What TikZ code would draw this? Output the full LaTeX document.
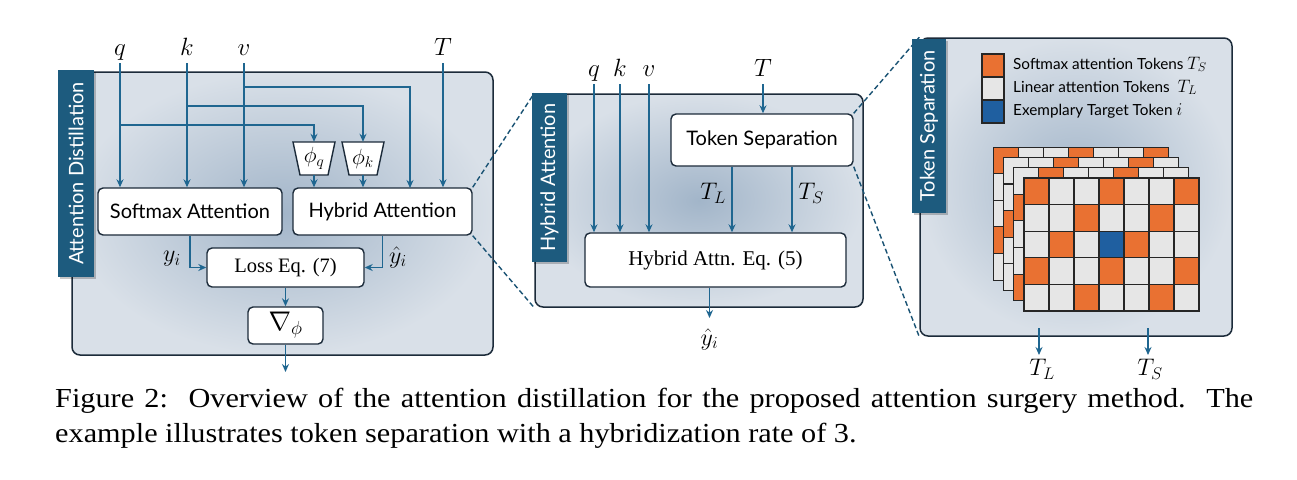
\RequirePackage{fix-cm}
\documentclass[tikz,border=0pt]{standalone}
\usepackage{fontspec}
\setmainfont{Liberation Serif}
\newfontfamily\lato{Lato}
\newfontfamily\capfont[FakeStretch=1.1]{Liberation Serif}
\usetikzlibrary{arrows.meta,calc}
\definecolor{arrc}{HTML}{1F6690}
\definecolor{tabc}{HTML}{1D5B7E}
\definecolor{edgec}{HTML}{1C2B3A}
\definecolor{pin}{HTML}{A2B5C9}
\definecolor{pout}{HTML}{D9E0E8}
\definecolor{orgc}{HTML}{E97132}
\definecolor{lgrc}{HTML}{E6E6E6}
\definecolor{tbluec}{HTML}{1F5FA0}
\tikzset{
  panel/.style={draw=edgec, line width=1.5pt, rounded corners=8pt, inner color=pin, outer color=pout, inner sep=0pt},
  tabbox/.style={fill=tabc, inner sep=0pt, rotate=90, text=white, font=\lato\fontsize{20}{24}\selectfont},
  box/.style={draw=edgec, fill=white, line width=1.4pt, rounded corners=5pt, inner sep=0pt, font=\lato\fontsize{20}{24}\selectfont},
  sbox/.style={box, font=\fontsize{20.5}{24}\selectfont},
  ar/.style={draw=arrc, line width=1.7pt, -{Stealth[length=8pt,width=7pt]}},
  dsh/.style={draw=arrc!80!black, line width=1.4pt, dash pattern=on 5pt off 3pt},
  mlab/.style={font=\fontsize{25}{30}\selectfont, inner sep=0pt},
  slab/.style={font=\fontsize{24}{28}\selectfont, inner sep=0pt},
  trap/.style={draw=edgec, fill=white, line width=1.4pt},
  cell/.style={draw=black!85, line width=1.1pt},
  legtext/.style={anchor=base west, inner sep=0pt, font=\lato\fontsize{15.3}{18}\selectfont},
  captext/.style={anchor=base west, inner sep=0pt, font=\capfont\fontsize{27.5}{33}\selectfont},
  shadowbox/.style={fill=black, opacity=0.22},
}
\begin{document}
\begin{tikzpicture}[x=1pt,y=-1pt]
\useasboundingbox (0,0) rectangle (1297,479);
\fill[white] (0,0) rectangle (1297,479);

% ---------- panels
\node[panel, minimum width=421, minimum height=283] (P1) at (282.5,213.5) {};
\node[panel, minimum width=328, minimum height=213] (P2) at (699,200.5) {};
\node[panel, minimum width=312, minimum height=298] (P3) at (1076,187) {};

% ---------- left panel boxes
\node[box, minimum width=184, minimum height=47] (sm) at (190,211.5) {Softmax Attention};
\node[box, minimum width=179, minimum height=47] (hy) at (382.5,211.5) {Hybrid Attention};
\node[sbox, minimum width=157, minimum height=39] (loss) at (285.5,267.5) {Loss Eq. (7)};
\node[box, minimum width=75, minimum height=37, font=\fontsize{27}{30}\selectfont] (grad) at (285.5,325.5) {$\nabla_{\phi}$};
\draw[trap] (293,142) -- (335,142) -- (328,175) -- (300,175) -- cycle;
\draw[trap] (342,142) -- (384,142) -- (377,175) -- (349,175) -- cycle;
\node[inner sep=0pt, minimum width=28, minimum height=33, font=\fontsize{22}{24}\selectfont] (phq) at (314,158.5) {$\phi_q$};
\node[inner sep=0pt, minimum width=28, minimum height=33, font=\fontsize{22}{24}\selectfont] (phk) at (363,158.5) {$\phi_k$};

% ---------- middle panel boxes
\node[box, minimum width=182, minimum height=52] (ts) at (762,140) {Token Separation};
\node[sbox, minimum width=261, minimum height=54, font=\fontsize{21}{24}\selectfont] (he) at (715.5,260) {Hybrid Attn. Eq. (5)};

% ---------- dashed zoom lines
\draw[dsh] (hy.north east) -- (P2.north west);
\draw[dsh] (hy.south east) -- (P2.south west);
\draw[dsh] (ts.north east) -- (P3.north west);
\draw[dsh] (ts.south east) -- (P3.south west);

% ---------- tabs
\fill[shadowbox] (60,72) rectangle (96,279);
\node[tabbox, minimum width=207, minimum height=36] (tab1) at (76,173.5) {Attention Distillation};
\fill[shadowbox] (534,95) rectangle (569,264);
\node[tabbox, minimum width=169, minimum height=35] (tab2) at (549.5,177.5) {Hybrid Attention};
\fill[shadowbox] (914,41) rectangle (948,215);
\node[tabbox, minimum width=174, minimum height=34] (tab3) at (929,126) {Token Separation};

% ---------- left panel labels and arrows
\node[mlab, anchor=base] (q1) at (120,55) {$q$};
\node[mlab, anchor=base] (k1) at (187,55) {$k$};
\node[mlab, anchor=base] (v1) at (244,55) {$v$};
\node[mlab, anchor=base] (T1) at (443,55) {$T$};
\coordinate (hv) at (410,188);
\coordinate (out1) at (285.5,372);
\draw[ar] ([yshift=-8pt]q1.base) -- (q1.base |- sm.north);
\draw[ar] ([yshift=-8pt]k1.base) -- (k1.base |- sm.north);
\draw[ar] ([yshift=-8pt]v1.base) -- (v1.base |- sm.north);
\draw[ar] ([yshift=-8pt]T1.base) -- (T1.base |- hy.north);
\draw[ar] (q1.base |- 0,125) -| (phq.north);
\draw[ar] (k1.base |- 0,106) -| (phk.north);
\draw[ar] (v1.base |- 0,87) -| (hv);
\draw[ar] (phq.south) -- (phq.south |- hy.north);
\draw[ar] (phk.south) -- (phk.south |- hy.north);
\draw[ar] (sm.south) |- (loss.west);
\draw[ar] (hy.south) |- (loss.east);
\draw[ar] (loss.south) -- (grad.north);
\draw[ar] (grad.south) -- (out1);
\node[slab] (yl) at (172,259) {$y_i$};
\node[slab] (yh) at (398,257) {$\hat{y}_i$};

% ---------- middle panel labels and arrows
\node[mlab, anchor=base] (q2) at (594,76) {$q$};
\node[mlab, anchor=base] (k2) at (620,76) {$k$};
\node[mlab, anchor=base] (v2) at (649,76) {$v$};
\node[mlab, anchor=base] (T2) at (763,76) {$T$};
\coordinate (tlA) at ([xshift=-30pt]ts.south);
\coordinate (tsA) at ([xshift=30pt]ts.south);
\coordinate (he1) at ([xshift=-6pt]he.south);
\coordinate (out2) at (709.5,318);
\draw[ar] ([yshift=-8pt]q2.base) -- (q2.base |- he.north);
\draw[ar] ([yshift=-8pt]k2.base) -- (k2.base |- he.north);
\draw[ar] ([yshift=-8pt]v2.base) -- (v2.base |- he.north);
\draw[ar] ([yshift=-8pt]T2.base) -- (T2.base |- ts.north);
\draw[ar] (tlA) -- (tlA |- he.north);
\draw[ar] (tsA) -- (tsA |- he.north);
\draw[ar] (he1) -- (out2);
\node[slab] (tl2) at (713,193) {$T_L$};
\node[slab] (ts2) at (811,193) {$T_S$};
\node[slab] (yh2) at (709.5,339) {$\hat{y}_i$};

% ---------- right panel: legend
\filldraw[cell, fill=orgc] (982,54) rectangle (1004,77);
\filldraw[cell, fill=lgrc] (982,77) rectangle (1004,100);
\filldraw[cell, fill=tbluec] (982,100) rectangle (1004,123);
\node[legtext] (lg1) at (1013,69) {Softmax attention Tokens {\fontsize{18}{20}\selectfont$T_S$}};
\node[legtext] (lg2) at (1013,92) {Linear attention Tokens \ {\fontsize{18}{20}\selectfont$T_L$}};
\node[legtext] (lg3) at (1013,115) {Exemplary Target Token {\fontsize{18}{20}\selectfont$i$}};

% ---------- right panel: token grids
\foreach \l/\k in {3/0,2/1,1/2,0/0}{
  \foreach \r in {0,...,4}{
    \foreach \c in {0,...,6}{
      \pgfmathtruncatemacro\m{mod(7*\r+\c+\k,3)}
      \ifnum\m=0 \def\cc{orgc}\else\def\cc{lgrc}\fi
      \ifnum\l=0 \ifnum\r=2 \ifnum\c=3 \def\cc{tbluec}\fi\fi\fi
      \filldraw[cell, fill=\cc] ({1024-10.3*\l+25*\c},{178-10.3*\l+26.6*\r}) rectangle ++(25,26.6);
    }
  }
}

% ---------- right panel outputs
\coordinate (tlo) at (1039,328);
\coordinate (tle) at (1039,355);
\coordinate (tso) at (1148,328);
\coordinate (tse) at (1148,355);
\draw[ar] (tlo) -- (tle);
\draw[ar] (tso) -- (tse);
\node[slab] (tl3) at (1042,369) {$T_L$};
\node[slab] (ts3) at (1150,369) {$T_S$};

% ---------- caption
\node[captext] (cap1) at (55,407) {\makebox[1198pt][s]{Figure 2:\ \ Overview of the attention distillation for the proposed attention surgery method.\ \ The}};
\node[captext] (cap2) at (55,442) {example illustrates token separation with a hybridization rate of 3.};
\end{tikzpicture}
\end{document}
